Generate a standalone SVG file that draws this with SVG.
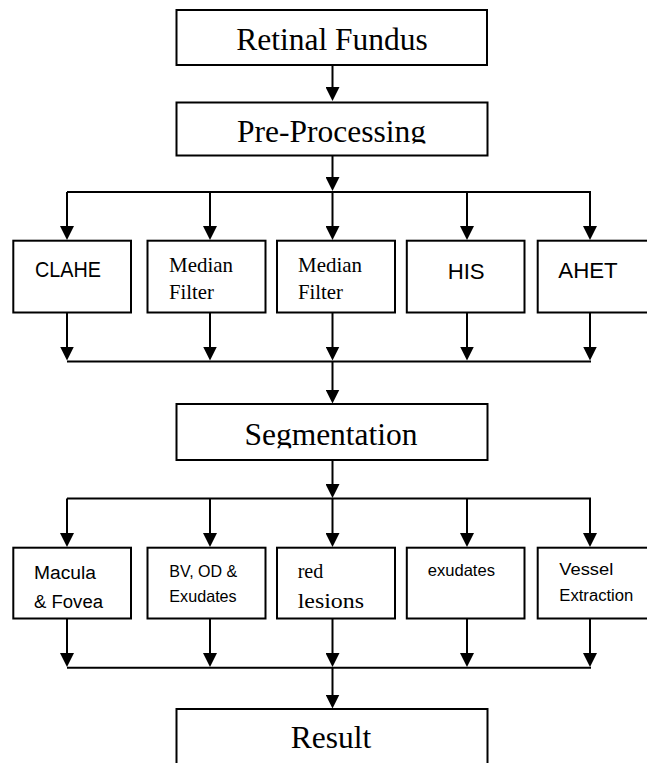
<svg xmlns="http://www.w3.org/2000/svg" width="647" height="763" viewBox="0 0 647 763">
<style>
.box{fill:#fff;stroke:#000;stroke-width:2}
.ln{fill:none;stroke:#000;stroke-width:2}
.arr{marker-end:url(#ah)}
.serif{font-family:"Liberation Serif","Times New Roman",serif;fill:#000}
.sans{font-family:"Liberation Sans",Arial,sans-serif;fill:#000}
.big{font-size:31.5px;text-anchor:middle}
</style>
<defs>
<marker id="ah" viewBox="0 0 14 14" refX="2" refY="7" markerWidth="14" markerHeight="14" markerUnits="userSpaceOnUse" orient="auto">
<path d="M0,0 L14,7 L0,14 z" fill="#000"/>
</marker>
<clipPath id="clipPre"><rect x="0" y="0" width="647" height="143.5"/></clipPath>
<clipPath id="clipSeg"><rect x="0" y="0" width="647" height="448.3"/></clipPath>
</defs>
<rect width="647" height="763" fill="#fff"/>

<g id="connectors">
<line class="ln arr" x1="332.5" y1="65" x2="332.5" y2="89"/>
<line class="ln arr" x1="332.5" y1="155.5" x2="332.5" y2="179"/>
<line class="ln" x1="67" y1="192" x2="591" y2="192"/>
<line class="ln arr" x1="67" y1="192" x2="67" y2="228"/>
<line class="ln arr" x1="210" y1="192" x2="210" y2="228"/>
<line class="ln arr" x1="332.5" y1="192" x2="332.5" y2="228"/>
<line class="ln arr" x1="467" y1="192" x2="467" y2="228"/>
<line class="ln arr" x1="590" y1="192" x2="590" y2="228"/>
<line class="ln arr" x1="67" y1="312.5" x2="67" y2="348.5"/>
<line class="ln arr" x1="210" y1="312.5" x2="210" y2="348.5"/>
<line class="ln arr" x1="332.5" y1="312.5" x2="332.5" y2="348.5"/>
<line class="ln arr" x1="467" y1="312.5" x2="467" y2="348.5"/>
<line class="ln arr" x1="590" y1="312.5" x2="590" y2="348.5"/>
<line class="ln" x1="67" y1="361.5" x2="591" y2="361.5"/>
<line class="ln arr" x1="332.5" y1="361.5" x2="332.5" y2="391.5"/>
<line class="ln arr" x1="332.5" y1="460" x2="332.5" y2="486"/>
<line class="ln" x1="67" y1="498.5" x2="591" y2="498.5"/>
<line class="ln arr" x1="67" y1="498.5" x2="67" y2="535"/>
<line class="ln arr" x1="210" y1="498.5" x2="210" y2="535"/>
<line class="ln arr" x1="332.5" y1="498.5" x2="332.5" y2="535"/>
<line class="ln arr" x1="467" y1="498.5" x2="467" y2="535"/>
<line class="ln arr" x1="590" y1="498.5" x2="590" y2="535"/>
<line class="ln arr" x1="67" y1="618.5" x2="67" y2="655"/>
<line class="ln arr" x1="210" y1="618.5" x2="210" y2="655"/>
<line class="ln arr" x1="332.5" y1="618.5" x2="332.5" y2="655"/>
<line class="ln arr" x1="467" y1="618.5" x2="467" y2="655"/>
<line class="ln arr" x1="590" y1="618.5" x2="590" y2="655"/>
<line class="ln" x1="67" y1="667.7" x2="591" y2="667.7"/>
<line class="ln arr" x1="332.5" y1="667.7" x2="332.5" y2="696.5"/>
</g>

<g id="retinal-fundus">
<rect class="box" x="176.5" y="10" width="310.5" height="55"/>
<text class="serif big" x="332" y="50">Retinal Fundus</text>
</g>

<g id="pre-processing">
<rect class="box" x="176.5" y="102.5" width="311" height="53"/>
<text class="serif big" x="331.5" y="141.7" clip-path="url(#clipPre)">Pre-Processing</text>
</g>

<g id="clahe">
<rect class="box" x="13.3" y="240.7" width="117.7" height="71.8"/>
<text class="sans" x="35" y="277" font-size="22" textLength="66" lengthAdjust="spacingAndGlyphs">CLAHE</text>
</g>

<g id="median-filter-1">
<rect class="box" x="147.5" y="240.7" width="118" height="71.8"/>
<text class="serif" x="169" y="271.5" font-size="21" textLength="64" lengthAdjust="spacingAndGlyphs">Median</text>
<text class="serif" x="169" y="299" font-size="21" textLength="45" lengthAdjust="spacingAndGlyphs">Filter</text>
</g>

<g id="median-filter-2">
<rect class="box" x="277" y="240.7" width="118" height="71.8"/>
<text class="serif" x="298" y="271.5" font-size="21" textLength="64" lengthAdjust="spacingAndGlyphs">Median</text>
<text class="serif" x="298" y="299" font-size="21" textLength="45" lengthAdjust="spacingAndGlyphs">Filter</text>
</g>

<g id="his">
<rect class="box" x="406.8" y="240.7" width="117.7" height="71.8"/>
<text class="sans" x="447.7" y="279" font-size="22" textLength="37" lengthAdjust="spacingAndGlyphs">HIS</text>
</g>

<g id="ahet">
<rect class="box" x="537.7" y="240.7" width="118.3" height="71.8"/>
<text class="sans" x="558.3" y="277.7" font-size="22" textLength="59.4" lengthAdjust="spacingAndGlyphs">AHET</text>
</g>

<g id="segmentation">
<rect class="box" x="176.5" y="404" width="311" height="56"/>
<text class="serif big" x="331" y="445" clip-path="url(#clipSeg)">Segmentation</text>
</g>

<g id="macula-fovea">
<rect class="box" x="13.3" y="547.7" width="117.7" height="70.8"/>
<text class="sans" x="34" y="579.3" font-size="18" textLength="62" lengthAdjust="spacingAndGlyphs">Macula</text>
<text class="sans" x="34" y="608.3" font-size="18" textLength="69" lengthAdjust="spacingAndGlyphs">&amp; Fovea</text>
</g>

<g id="bv-od-exudates">
<rect class="box" x="147.5" y="547.7" width="118" height="70.8"/>
<text class="sans" x="169.3" y="576.7" font-size="16.5" textLength="68" lengthAdjust="spacingAndGlyphs">BV, OD &amp;</text>
<text class="sans" x="169.3" y="601.7" font-size="16.5" textLength="67.4" lengthAdjust="spacingAndGlyphs">Exudates</text>
</g>

<g id="red-lesions">
<rect class="box" x="277" y="547.7" width="118" height="70.8"/>
<text class="serif" x="297.7" y="577.7" font-size="22" textLength="25.6" lengthAdjust="spacingAndGlyphs">red</text>
<text class="serif" x="297.7" y="608.3" font-size="22" textLength="66.3" lengthAdjust="spacingAndGlyphs">lesions</text>
</g>

<g id="exudates">
<rect class="box" x="406.8" y="547.7" width="117.7" height="70.8"/>
<text class="sans" x="427.7" y="575.7" font-size="16.5" textLength="67.3" lengthAdjust="spacingAndGlyphs">exudates</text>
</g>

<g id="vessel-extraction">
<rect class="box" x="537.7" y="547.7" width="118.3" height="70.8"/>
<text class="sans" x="559.3" y="575" font-size="16" textLength="54" lengthAdjust="spacingAndGlyphs">Vessel</text>
<text class="sans" x="559.3" y="601" font-size="16" textLength="74" lengthAdjust="spacingAndGlyphs">Extraction</text>
</g>

<g id="result">
<rect class="box" x="176.5" y="709" width="311" height="70"/>
<text class="serif big" x="331" y="748.3">Result</text>
</g>
</svg>
